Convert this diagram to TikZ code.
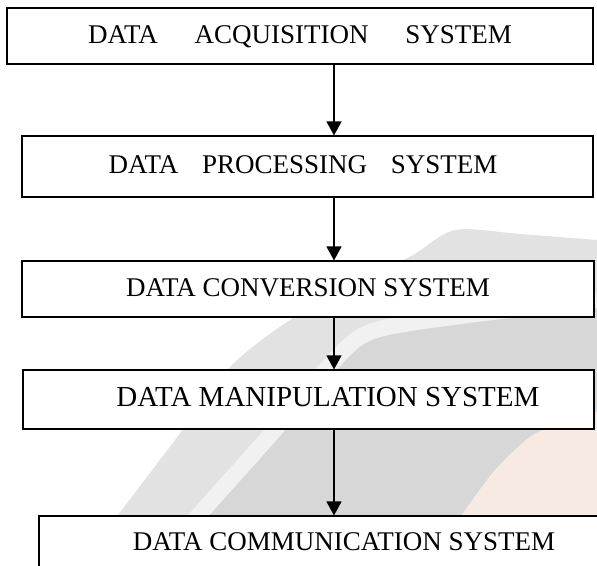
\documentclass[tikz,border=0pt]{standalone}
\usepackage{fontspec}
\setmainfont{Liberation Serif}
\usetikzlibrary{arrows.meta,positioning}
\definecolor{wmouter}{RGB}{226,226,226}
\definecolor{wminner}{RGB}{215,215,215}
\definecolor{wmstripe}{RGB}{241,241,241}
\definecolor{wmpeach}{RGB}{246,234,226}

\begin{document}
\begin{tikzpicture}[x=1pt,y=-1pt,
    blk/.style={draw,fill=white,line width=1.1pt,inner sep=0pt,text height=19pt,text depth=5pt,font=\fontsize{27}{30}\selectfont},
    flow/.style={-{Triangle[length=14pt,width=15pt]},line width=1.2pt}]
\useasboundingbox (0,0) rectangle (597,565);
\clip (0,0) rectangle (597,565);

% faint logo behind the chart
\fill[wmouter] (105,565) -- plot[smooth] coordinates {(118,515) (175,440) (230,367) (290,320) (360,282) (413,255) (455,230) (520,234) (597,240)} -- (597,565) -- cycle;
\fill[wminner] (200,565) -- plot[smooth] coordinates {(190,525) (272,433) (330,365) (370,332) (453,317) (597,300)} -- (597,565) -- cycle;
\draw[wmstripe,line width=16pt] plot[smooth] coordinates {(180,540) (190,525) (272,433) (330,365) (370,332) (453,317) (597,300)};
\fill[wmpeach] (440,565) -- plot[smooth] coordinates {(463,513) (495,470) (530,437) (565,420) (597,412)} -- (597,565) -- cycle;

\node[blk,minimum width=586pt,minimum height=56pt] (acq) at (300,36) {DATA\hspace{30pt} ACQUISITION\hspace{30pt} SYSTEM};
\node[blk,minimum width=571pt,minimum height=61pt] (proc) at (307.5,166.5) {\hspace{-9pt}DATA\hspace{17pt} PROCESSING\hspace{17pt} SYSTEM};
\node[blk,minimum width=572pt,minimum height=56pt] (conv) at (308,289) {DATA CONVERSION SYSTEM};
\node[blk,minimum width=571pt,minimum height=59pt,font=\fontsize{29}{32}\selectfont] (manip) at (308.5,399.5) {\hspace{39pt}DATA MANIPULATION SYSTEM};
\node[blk,minimum width=610pt,text height=34pt,text depth=46pt] (comm) at (344,556) {DATA COMMUNICATION SYSTEM};

\coordinate (spine) at (334,0);
\foreach \a/\b in {acq/proc,proc/conv,conv/manip,manip/comm}
  \draw[flow] (\a.south -| spine) -- (\b.north -| spine);
\end{tikzpicture}
\end{document}
